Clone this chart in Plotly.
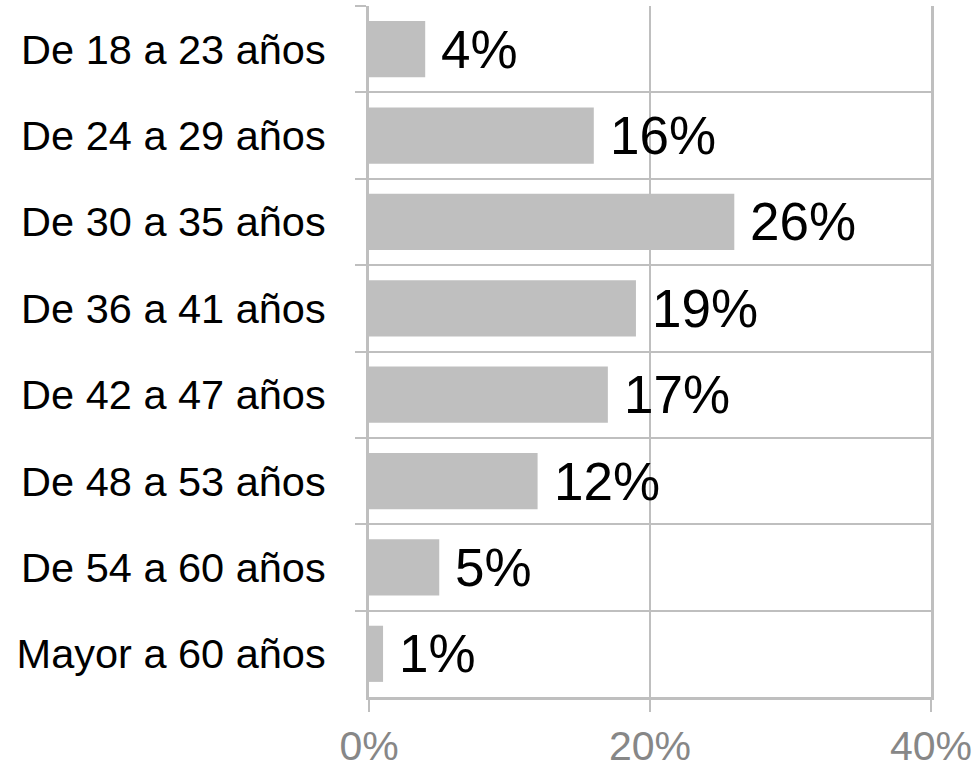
import plotly.graph_objects as go

categories = [
    "De 18 a 23 años",
    "De 24 a 29 años",
    "De 30 a 35 años",
    "De 36 a 41 años",
    "De 42 a 47 años",
    "De 48 a 53 años",
    "De 54 a 60 años",
    "Mayor a 60 años",
]
values = [4, 16, 26, 19, 17, 12, 5, 1]
labels = ["4%", "16%", "26%", "19%", "17%", "12%", "5%", "1%"]
x_ticks = [0, 20, 40]
x_ticktext = ["0%", "20%", "40%"]

grey = "#bfbfbf"

fig = go.Figure()
fig.add_trace(go.Bar(
    x=values,
    y=categories,
    orientation="h",
    marker=dict(color=grey, line=dict(width=0)),
    hoverinfo="skip",
))

# valores junto a cada barra
for cat, val, lab in zip(categories, values, labels):
    fig.add_annotation(
        x=val, y=cat, text=lab, showarrow=False,
        xanchor="left", yanchor="middle", xshift=14,
        font=dict(family="Liberation Sans, Arial", size=53, color="black"),
    )

fig.update_layout(
    width=973, height=765,
    margin=dict(l=369, r=42, t=6, b=68),
    paper_bgcolor="white", plot_bgcolor="white",
    bargap=0.35,
    showlegend=False,
    font=dict(family="Liberation Sans, Arial", color="black"),
)

fig.update_xaxes(
    range=[0, 40],
    tickvals=x_ticks, ticktext=x_ticktext,
    tickfont=dict(size=41, color="#878787"),
    showgrid=True, gridcolor=grey, gridwidth=1.5,
    showline=True, linecolor=grey, linewidth=3,
    ticks="outside", ticklen=12, tickcolor=grey, tickwidth=1.5,
    ticklabelstandoff=-1,
    zeroline=False, automargin=False,
)

fig.update_yaxes(
    categoryorder="array", categoryarray=categories,
    autorange="reversed",
    tickson="boundaries",
    tickfont=dict(size=41.5, color="black"),
    showgrid=True, gridcolor=grey, gridwidth=1.5,
    showline=True, linecolor=grey, linewidth=3, mirror=True,
    ticks="outside", ticklen=11, tickcolor=grey, tickwidth=1.5,
    ticklabelstandoff=32, automargin=False,
)

# sin el margen de 8px del body, la figura ocupa toda la ventana
fig.write_html(
    "out.html",
    config={"displayModeBar": False},
    post_script="document.body.style.margin = '0';",
)
